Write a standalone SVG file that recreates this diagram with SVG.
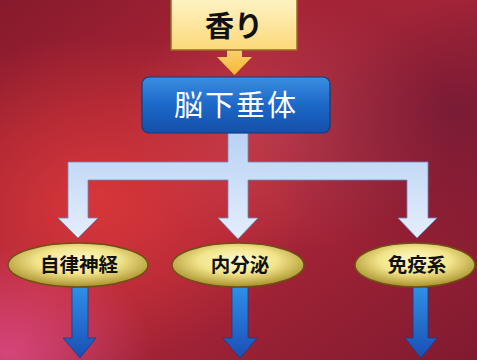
<svg xmlns="http://www.w3.org/2000/svg" width="477" height="360" viewBox="0 0 477 360">
<defs>
<linearGradient id="bg" x1="0" y1="0" x2="1" y2="1">
<stop offset="0" stop-color="#861a2c"/>
<stop offset="0.45" stop-color="#b42838"/>
<stop offset="1" stop-color="#801a30"/>
</linearGradient>
<radialGradient id="glow1" cx="0.2" cy="0.55" r="0.45">
<stop offset="0" stop-color="#e03a3a" stop-opacity="0.8"/>
<stop offset="1" stop-color="#e03a3a" stop-opacity="0"/>
</radialGradient>
<radialGradient id="glow2" cx="0.6" cy="0.35" r="0.35">
<stop offset="0" stop-color="#c84a5a" stop-opacity="0.6"/>
<stop offset="1" stop-color="#c84a5a" stop-opacity="0"/>
</radialGradient>
<radialGradient id="dark" cx="0.95" cy="0.3" r="0.45">
<stop offset="0" stop-color="#5a1434" stop-opacity="0.55"/>
<stop offset="1" stop-color="#5a1434" stop-opacity="0"/>
</radialGradient>
<radialGradient id="pink" cx="0.02" cy="0.98" r="0.3">
<stop offset="0" stop-color="#e05090" stop-opacity="0.75"/>
<stop offset="1" stop-color="#e05090" stop-opacity="0"/>
</radialGradient>
<linearGradient id="yel" x1="0" y1="0" x2="0" y2="1">
<stop offset="0" stop-color="#fff3c4"/>
<stop offset="1" stop-color="#fcd97a"/>
</linearGradient>
<linearGradient id="yarr" x1="0" y1="0" x2="0" y2="1">
<stop offset="0" stop-color="#f6d070"/>
<stop offset="1" stop-color="#f8b830"/>
</linearGradient>
<linearGradient id="blue" x1="0" y1="0" x2="0" y2="1">
<stop offset="0" stop-color="#3a8ee0"/>
<stop offset="0.5" stop-color="#1c68c8"/>
<stop offset="1" stop-color="#1450a8"/>
</linearGradient>
<linearGradient id="lb" x1="0" y1="0" x2="0" y2="1">
<stop offset="0" stop-color="#b8d2f4"/>
<stop offset="1" stop-color="#e4eefc"/>
</linearGradient>
<linearGradient id="db" x1="0" y1="0" x2="0" y2="1">
<stop offset="0" stop-color="#2e90e6"/>
<stop offset="1" stop-color="#1a4eb4"/>
</linearGradient>
<radialGradient id="gold" cx="0.5" cy="0.4" r="0.6">
<stop offset="0" stop-color="#fffbd0"/>
<stop offset="0.5" stop-color="#f2e48a"/>
<stop offset="1" stop-color="#a8902a"/>
</radialGradient>
<style>
.ell{fill:url(#gold);stroke:#6e5016;stroke-width:1.5}
.lab{font-family:"Noto Sans CJK JP",sans-serif;font-weight:bold;font-size:19.5px;fill:#111;text-anchor:middle}
.dn{fill:url(#db);stroke:#143e8a;stroke-width:0.8}
</style>
</defs>
<rect width="477" height="360" fill="url(#bg)"/>
<rect width="477" height="360" fill="url(#glow1)"/>
<rect width="477" height="360" fill="url(#glow2)"/>
<rect width="477" height="360" fill="url(#dark)"/>
<rect width="477" height="360" fill="url(#pink)"/>

<g id="connectors">
<path d="M227,50 L242,50 L242,57 L252,57 L234.5,75 L217,57 L227,57 Z" fill="url(#yarr)"/>
<path d="M228,133 L248,133 L248,162 L428,162 L428,218 L437,218 L417,238 L398,218 L407,218 L407,180 L248,180 L248,218 L258,218 L238,239 L218,218 L228,218 L228,180 L88,180 L88,218 L98,218 L78,238 L58,218 L68,218 L68,162 L228,162 Z" fill="url(#lb)" stroke="#6a8cc0" stroke-width="0.8"/>
<path class="dn" d="M72,287 L88,287 L88,338 L96,338 L80,358 L63,338 L72,338 Z"/>
<path class="dn" d="M232,287 L248,287 L248,338 L257,338 L240,358 L223,338 L232,338 Z"/>
<path class="dn" d="M413,287 L428,287 L428,338 L437,338 L421,358 L405,338 L413,338 Z"/>
</g>

<g id="kaori">
<rect x="171" y="-2" width="126" height="52" fill="url(#yel)" stroke="#9a6a20" stroke-width="1.5"/>
<text x="234" y="37" font-family="Noto Sans CJK JP, sans-serif" font-weight="bold" font-size="29" fill="#111" text-anchor="middle">香り</text>
</g>

<g id="pituitary">
<rect x="142" y="77" width="188" height="56" rx="7" fill="url(#blue)" stroke="#0e3c80" stroke-width="1.2"/>
<text x="236" y="116" font-family="Noto Sans CJK JP, sans-serif" font-size="29" letter-spacing="2" fill="#fff" text-anchor="middle">脳下垂体</text>
</g>

<g id="autonomic">
<ellipse class="ell" cx="78" cy="265" rx="70" ry="22"/>
<text class="lab" x="79" y="272">自律神経</text>
</g>
<g id="endocrine">
<ellipse class="ell" cx="238" cy="265" rx="66" ry="22"/>
<text class="lab" x="240" y="272">内分泌</text>
</g>
<g id="immune">
<ellipse class="ell" cx="415" cy="265" rx="60" ry="22"/>
<text class="lab" x="417" y="272">免疫系</text>
</g>
</svg>
